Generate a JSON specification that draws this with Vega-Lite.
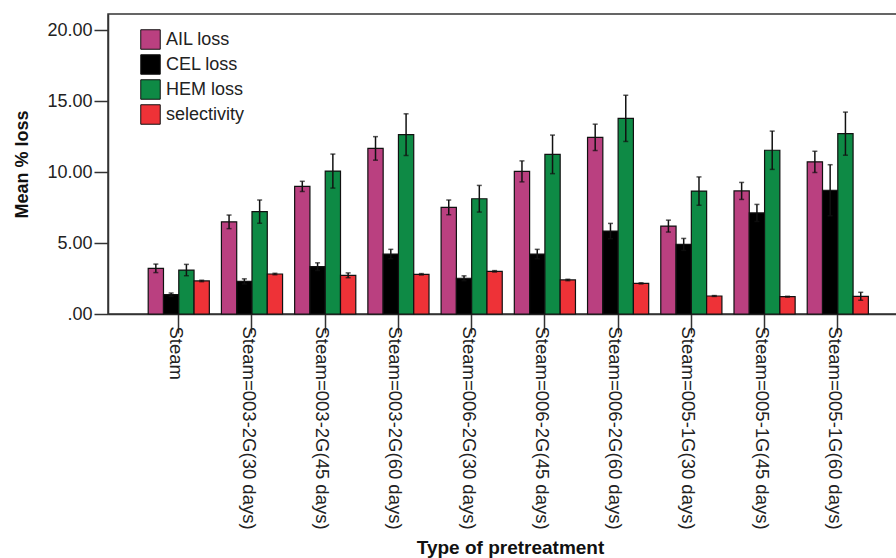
{
  "$schema": "https://vega.github.io/schema/vega-lite/v6.json",
  "autosize": {"type": "none"},
  "padding": {"left": 108, "top": 14, "right": 0, "bottom": 244},
  "width": 789,
  "height": 300,
  "background": "white",
  "config": {
    "font": "Liberation Sans",
    "view": {"stroke": "#333333", "strokeWidth": 1.5}
  },
  "data": {"values": [
    {"g": "Steam", "m": "AIL loss", "v": 3.22, "lo": 2.92, "hi": 3.52},
    {"g": "Steam", "m": "CEL loss", "v": 1.36, "lo": 1.24, "hi": 1.48},
    {"g": "Steam", "m": "HEM loss", "v": 3.10, "lo": 2.70, "hi": 3.50},
    {"g": "Steam", "m": "selectivity", "v": 2.33, "lo": 2.28, "hi": 2.38},
    {"g": "Steam=003-2G(30 days)", "m": "AIL loss", "v": 6.50, "lo": 6.02, "hi": 6.98},
    {"g": "Steam=003-2G(30 days)", "m": "CEL loss", "v": 2.30, "lo": 2.12, "hi": 2.48},
    {"g": "Steam=003-2G(30 days)", "m": "HEM loss", "v": 7.22, "lo": 6.40, "hi": 8.04},
    {"g": "Steam=003-2G(30 days)", "m": "selectivity", "v": 2.82, "lo": 2.77, "hi": 2.87},
    {"g": "Steam=003-2G(45 days)", "m": "AIL loss", "v": 9.00, "lo": 8.64, "hi": 9.36},
    {"g": "Steam=003-2G(45 days)", "m": "CEL loss", "v": 3.34, "lo": 3.07, "hi": 3.61},
    {"g": "Steam=003-2G(45 days)", "m": "HEM loss", "v": 10.08, "lo": 8.88, "hi": 11.28},
    {"g": "Steam=003-2G(45 days)", "m": "selectivity", "v": 2.73, "lo": 2.56, "hi": 2.90},
    {"g": "Steam=003-2G(60 days)", "m": "AIL loss", "v": 11.68, "lo": 10.85, "hi": 12.51},
    {"g": "Steam=003-2G(60 days)", "m": "CEL loss", "v": 4.23, "lo": 3.90, "hi": 4.56},
    {"g": "Steam=003-2G(60 days)", "m": "HEM loss", "v": 12.65, "lo": 11.18, "hi": 14.12},
    {"g": "Steam=003-2G(60 days)", "m": "selectivity", "v": 2.80, "lo": 2.75, "hi": 2.85},
    {"g": "Steam=006-2G(30 days)", "m": "AIL loss", "v": 7.52, "lo": 7.00, "hi": 8.04},
    {"g": "Steam=006-2G(30 days)", "m": "CEL loss", "v": 2.52, "lo": 2.35, "hi": 2.69},
    {"g": "Steam=006-2G(30 days)", "m": "HEM loss", "v": 8.13, "lo": 7.19, "hi": 9.07},
    {"g": "Steam=006-2G(30 days)", "m": "selectivity", "v": 3.01, "lo": 2.96, "hi": 3.06},
    {"g": "Steam=006-2G(45 days)", "m": "AIL loss", "v": 10.06, "lo": 9.32, "hi": 10.80},
    {"g": "Steam=006-2G(45 days)", "m": "CEL loss", "v": 4.23, "lo": 3.90, "hi": 4.56},
    {"g": "Steam=006-2G(45 days)", "m": "HEM loss", "v": 11.26, "lo": 9.90, "hi": 12.62},
    {"g": "Steam=006-2G(45 days)", "m": "selectivity", "v": 2.40, "lo": 2.35, "hi": 2.45},
    {"g": "Steam=006-2G(60 days)", "m": "AIL loss", "v": 12.46, "lo": 11.53, "hi": 13.39},
    {"g": "Steam=006-2G(60 days)", "m": "CEL loss", "v": 5.85, "lo": 5.31, "hi": 6.39},
    {"g": "Steam=006-2G(60 days)", "m": "HEM loss", "v": 13.80, "lo": 12.17, "hi": 15.43},
    {"g": "Steam=006-2G(60 days)", "m": "selectivity", "v": 2.16, "lo": 2.12, "hi": 2.20},
    {"g": "Steam=005-1G(30 days)", "m": "AIL loss", "v": 6.20, "lo": 5.78, "hi": 6.62},
    {"g": "Steam=005-1G(30 days)", "m": "CEL loss", "v": 4.91, "lo": 4.49, "hi": 5.33},
    {"g": "Steam=005-1G(30 days)", "m": "HEM loss", "v": 8.67, "lo": 7.67, "hi": 9.67},
    {"g": "Steam=005-1G(30 days)", "m": "selectivity", "v": 1.27, "lo": 1.24, "hi": 1.30},
    {"g": "Steam=005-1G(45 days)", "m": "AIL loss", "v": 8.68, "lo": 8.08, "hi": 9.28},
    {"g": "Steam=005-1G(45 days)", "m": "CEL loss", "v": 7.13, "lo": 6.53, "hi": 7.73},
    {"g": "Steam=005-1G(45 days)", "m": "HEM loss", "v": 11.55, "lo": 10.20, "hi": 12.90},
    {"g": "Steam=005-1G(45 days)", "m": "selectivity", "v": 1.22, "lo": 1.19, "hi": 1.25},
    {"g": "Steam=005-1G(60 days)", "m": "AIL loss", "v": 10.73, "lo": 9.98, "hi": 11.48},
    {"g": "Steam=005-1G(60 days)", "m": "CEL loss", "v": 8.73, "lo": 6.93, "hi": 10.53},
    {"g": "Steam=005-1G(60 days)", "m": "HEM loss", "v": 12.72, "lo": 11.20, "hi": 14.24},
    {"g": "Steam=005-1G(60 days)", "m": "selectivity", "v": 1.25, "lo": 0.97, "hi": 1.53}
  ]},
  "encoding": {
    "x": {
      "field": "g", "type": "nominal", "sort": null,
      "scale": {"paddingInner": 0.165, "paddingOuter": 0.47, "align": 0.584},
      "axis": {
        "title": "Type of pretreatment",
        "titleFont": "Liberation Sans", "titleFontSize": 19, "titleFontWeight": "bold", "titleColor": "#111111",
        "titleX": 402, "titleY": 239, "titleBaseline": "alphabetic", "titleAlign": "center",
        "labelAngle": 90, "labelFontSize": 18.5, "labelColor": "#222222", "labelOffset": -3,
        "labelPadding": -7, "tickSize": 19, "tickColor": "#333333", "tickWidth": 1.5,
        "domainColor": "#333333", "domainWidth": 1.5, "labelLimit": 300
      }
    },
    "xOffset": {
      "field": "m", "type": "nominal",
      "sort": ["AIL loss", "CEL loss", "HEM loss", "selectivity"],
      "scale": {"paddingInner": 0, "paddingOuter": 0}
    }
  },
  "layer": [
    {
      "mark": {"type": "bar", "stroke": "#111111", "strokeWidth": 1.2},
      "encoding": {
        "y": {
          "field": "v", "type": "quantitative",
          "scale": {"domain": [0, 21.16], "nice": false},
          "axis": {
            "title": "Mean % loss", "values": [0, 5, 10, 15, 20],
            "labelExpr": "datum.value == 0 ? '.00' : format(datum.value, '.2f')",
            "labelFontSize": 18, "labelColor": "#222222", "labelPadding": 2,
            "tickSize": 14, "tickColor": "#333333", "tickWidth": 1.5,
            "domainColor": "#333333", "domainWidth": 1.5, "grid": false,
            "titleFontSize": 18, "titleFontWeight": "bold", "titleColor": "#111111",
            "titleAngle": -90, "titleX": -86, "titleY": 150, "titleAlign": "center", "titleBaseline": "middle"
          }
        },
        "color": {
          "field": "m", "type": "nominal",
          "sort": ["AIL loss", "CEL loss", "HEM loss", "selectivity"],
          "scale": {
            "domain": ["AIL loss", "CEL loss", "HEM loss", "selectivity"],
            "range": ["#BA4080", "#000000", "#0E8A45", "#EE3237"]
          },
          "legend": {
            "title": null, "orient": "none", "legendX": 32, "legendY": 15,
            "symbolType": "square", "symbolSize": 380, "symbolStrokeColor": "#111111",
            "symbolStrokeWidth": 1, "symbolOpacity": 1,
            "labelFontSize": 18, "labelColor": "#222222", "labelOffset": 5,
            "rowPadding": 0, "padding": 0
          }
        }
      }
    },
    {
      "mark": {"type": "rule", "color": "#111111", "strokeWidth": 1.5},
      "encoding": {
        "y": {"field": "lo", "type": "quantitative"},
        "y2": {"field": "hi"}
      }
    },
    {
      "mark": {"type": "tick", "color": "#111111", "size": 5, "thickness": 1.5},
      "encoding": {
        "y": {"field": "hi", "type": "quantitative"}
      }
    },
    {
      "mark": {"type": "tick", "color": "#111111", "size": 5, "thickness": 1.5},
      "encoding": {
        "y": {"field": "lo", "type": "quantitative"}
      }
    }
  ]
}
